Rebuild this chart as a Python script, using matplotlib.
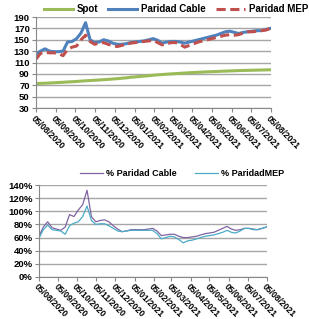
import matplotlib
matplotlib.use('Agg')
import matplotlib.pyplot as plt
import matplotlib.dates as mdates
import pandas as pd

# weekly readings, 05/08/2020 -> 04/08/2021
dates = pd.date_range('2020-08-05', periods=53, freq='7D')

spot = [72.9, 73.3, 73.6, 74.0, 74.4, 74.9, 75.2, 75.8, 76.2, 76.7, 77.3, 77.8, 78.3,
        78.8, 79.3, 79.8, 80.3, 81.0, 81.6, 82.3, 83.0, 84.1, 84.7, 85.4, 86.1, 86.8,
        87.6, 88.3, 88.9, 89.5, 90.0, 90.5, 91.0, 91.5, 92.0, 92.4, 92.8, 93.2, 93.6,
        93.9, 94.2, 94.6, 94.9, 95.2, 95.5, 95.8, 96.0, 96.2, 96.4, 96.6, 96.8, 97.0, 97.2]
cable = [125, 130, 134, 130, 129, 129, 130, 146, 147, 152, 162, 180, 150,
         145, 146, 150, 148, 144, 142, 142, 143, 145, 146, 147, 148, 150,
         152, 149, 144, 146, 147, 147, 146, 144, 146, 148, 150, 152, 154,
         156, 158, 161, 164, 165, 163, 161, 163, 164, 165, 166, 166, 168, 170]
mep = [116, 126, 128, 127, 127, 126, 122, 133, 137, 139, 150, 158, 147,
       142, 144, 145, 142, 140, 138, 140, 142, 144, 145, 146, 147, 148,
       149, 145, 141, 143, 145, 145, 142, 137, 140, 143, 146, 148, 150,
       152, 154, 156, 158, 159, 158, 159, 162, 164, 164, 165, 166, 167, 170]

pct_cable = [62, 76, 84, 75, 73, 71, 76, 95, 92, 102, 110, 132, 92,
             84, 86, 87, 84, 78, 73, 69, 70, 72, 72, 72, 72, 73,
             74, 70, 63, 64, 65, 65, 62, 60, 60, 61, 62, 64, 66,
             67, 68, 71, 74, 77, 73, 71, 72, 74, 74, 73, 72, 74, 76]
pct_mep = [59, 72, 79, 72, 71, 70, 65, 78, 82, 84, 92, 108, 86,
           80, 81, 81, 78, 74, 70, 69, 70, 71, 71, 71, 71, 71,
           71, 66, 58, 60, 62, 61, 57, 52, 55, 56, 58, 60, 62,
           63, 64, 66, 68, 71, 68, 67, 70, 74, 74, 72, 72, 74, 76]

month_ticks = pd.date_range('2020-08-01', '2021-08-01', freq='MS') + pd.Timedelta(days=4)

plt.rcParams['font.family'] = ['Liberation Sans', 'DejaVu Sans']
grid_col = '#a6a6a6'

fig = plt.figure(figsize=(3.09, 3.19), dpi=100)
ax1 = fig.add_axes([0.1165, 0.6614, 0.7605, 0.2853])
ax2 = fig.add_axes([0.126, 0.1317, 0.738, 0.2883])


def style_axis(ax):
    ax.set_xlim(month_ticks[0], month_ticks[-1])
    ax.set_xticks(month_ticks)
    ax.xaxis.set_major_formatter(mdates.DateFormatter('%d/%m/%Y'))
    for lbl in ax.get_xticklabels():
        lbl.set_rotation(-45)
        lbl.set_ha('left')
        lbl.set_va('top')
        lbl.set_rotation_mode('anchor')
        lbl.set_fontsize(6.2)
        lbl.set_fontweight('bold')
    for lbl in ax.get_yticklabels():
        lbl.set_fontsize(6.8)
        lbl.set_fontweight('bold')
    ax.grid(axis='y', color=grid_col, linewidth=1)
    ax.set_axisbelow(True)
    for s in ['top', 'right']:
        ax.spines[s].set_visible(False)
    for s in ['left', 'bottom']:
        ax.spines[s].set_color('#888888')
        ax.spines[s].set_linewidth(0.8)
    ax.tick_params(length=3, width=0.8, color='#888888', pad=1.5)
    ax.tick_params(axis='x', pad=1)


# top chart
ax1.plot(dates, spot, color='#9bbb59', lw=2.2, label='Spot')
ax1.plot(dates, cable, color='#4f81bd', lw=2.2, label='Paridad Cable')
ax1.plot(dates, mep, color='#c0504d', lw=2.2, ls=(0, (3, 1.5)), label='Paridad MEP')
ax1.set_ylim(30, 190)
ax1.set_yticks(range(30, 191, 20))
style_axis(ax1)
fig.legend(*ax1.get_legend_handles_labels(), loc='center', bbox_to_anchor=(0.57, 0.972),
           ncol=3, frameon=False, prop={'size': 7, 'weight': 'bold'}, handlelength=3.0,
           columnspacing=1.0, handletextpad=0.4, borderaxespad=0, borderpad=0)

# bottom chart
ax2.plot(dates, pct_cable, color='#8064a2', lw=0.9, label='% Paridad Cable')
ax2.plot(dates, pct_mep, color='#4bacc6', lw=0.9, label='% ParidadMEP')
ax2.set_ylim(0, 140)
ax2.set_yticks(range(0, 141, 20))
ax2.set_yticklabels([f'{v}%' for v in range(0, 141, 20)])
style_axis(ax2)
fig.legend(*ax2.get_legend_handles_labels(), loc='center', bbox_to_anchor=(0.59, 0.455),
           ncol=2, frameon=False, prop={'size': 6.5, 'weight': 'bold'}, handlelength=2.5,
           columnspacing=2.0, handletextpad=0.4, borderaxespad=0, borderpad=0)

fig.savefig('out.png', dpi=100)
